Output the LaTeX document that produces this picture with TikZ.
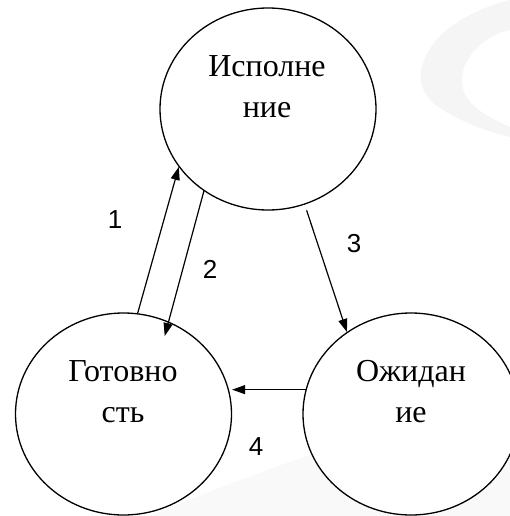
\documentclass[tikz,border=0pt]{standalone}
\usepackage{fontspec}
\setmainfont{Liberation Serif}
\newfontfamily\digitfont{Liberation Sans}
\usetikzlibrary{arrows.meta,shapes.geometric}
\begin{document}
\begin{tikzpicture}[x=1pt,y=-1pt,
  state/.style={draw, fill=white, ellipse, minimum width=216pt, minimum height=202pt, line width=1.3pt, inner sep=0pt},
  stxt/.style={align=center, font=\fontsize{32}{41}\selectfont, inner sep=0pt},
  num/.style={font=\digitfont\fontsize{26}{26}\selectfont, inner sep=0pt},
  conn/.style={line width=1.2pt, -{Triangle[length=13pt,width=9pt]}},
  wmark/.style={fill=black!4, draw=none}
]
\fill[white] (0,0) rectangle (510,516);
\useasboundingbox (0,0) rectangle (510,516);
% faint watermark
\fill[wmark] (510,0) .. controls (470,10) and (440,30) .. (428,52)
  .. controls (415,75) and (420,95) .. (440,108)
  .. controls (460,122) and (490,132) .. (510,137)
  -- (510,127) .. controls (490,118) and (470,108) .. (464,92)
  .. controls (458,76) and (465,58) .. (480,45)
  .. controls (490,36) and (500,32) .. (510,30) -- cycle;
\fill[black!2.5] (150,516) .. controls (260,470) and (400,420) .. (510,400) -- (510,516) -- cycle;

\node[state] (run) at (268,109) {};
\node[state] (ready) at (123.5,414) {};
\node[state] (wait) at (411,414) {};

\node[stxt] (runT) at (267,87) {Исполне\\ние};
\node[stxt] (readyT) at (123,392) {Готовно\\сть};
\node[stxt] (waitT) at (411,392) {Ожидан\\ие};

\draw[conn] (ready.82) -- (run.213);
\draw[conn, shorten >=-15pt] (run.232) -- (ready.64);
\draw[conn, shorten <=6pt] (run.291) -- (wait.128);
\draw[conn] (wait.167) -- (wait.167 -| ready.east);

\node[num] (n1) at (115,220) {1};
\node[num] (n2) at (210,269) {2};
\node[num] (n3) at (354,244) {3};
\node[num] (n4) at (256,447) {4};
\end{tikzpicture}
\end{document}
